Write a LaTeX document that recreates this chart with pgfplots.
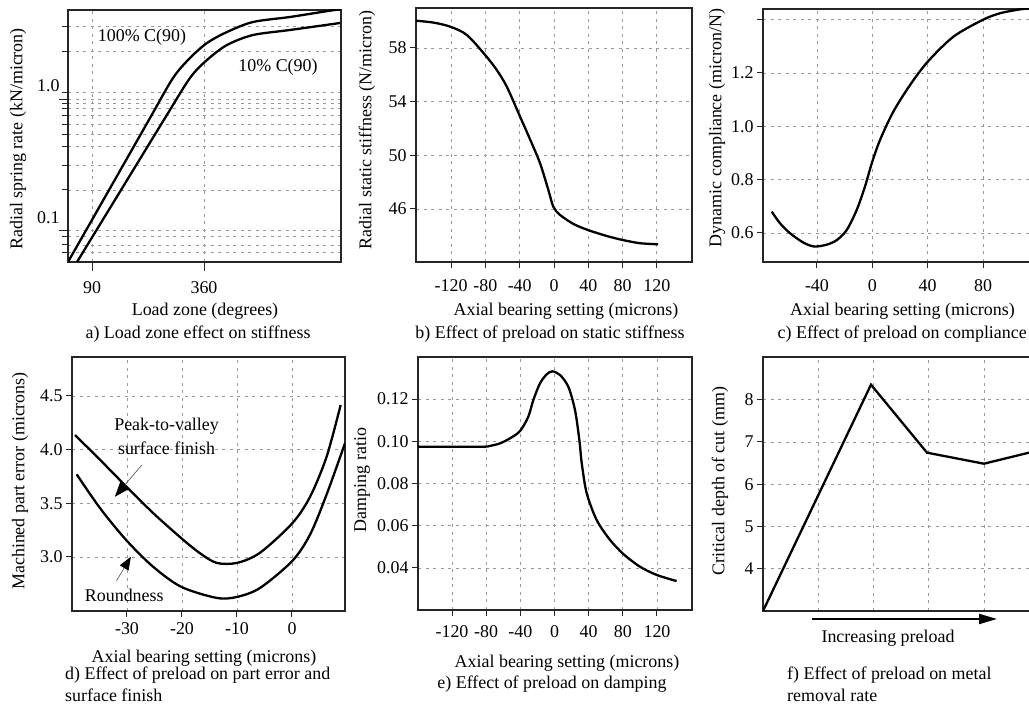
\documentclass[border=0pt]{standalone}
\usepackage{fontspec}
\setmainfont{Liberation Serif}
\usepackage{pgfplots}
\pgfplotsset{compat=1.18}
\usetikzlibrary{arrows.meta}

\newcommand{\fs}{\fontsize{18}{21}\selectfont}

\pgfplotsset{
  panel/.style={
    scale only axis,
    anchor=south west,
    axis line style={line width=1.5bp, black!85},
    grid=major,
    major grid style={gray!80, line width=0.8bp, dash pattern=on 3bp off 4.5bp},
    minor grid style={gray!80, line width=0.8bp, dash pattern=on 3bp off 4.5bp},
    tick align=outside,
    major tick length=6bp,
    minor tick length=6bp,
    tick style={line width=1bp, black!85},
    tick pos=left,
    tick label style={font=\fs},
    /pgf/number format/assume math mode=true,
  },
  curve/.style={black, line width=2.3bp, smooth, no markers},
}

\begin{document}
\begin{tikzpicture}[x=1bp,y=1bp]
\path[use as bounding box] (0,0) rectangle (1029,713);

% a) load zone
\begin{axis}[panel, at={(68bp,451bp)}, width=273bp, height=252bp,
  xmin=32.1, xmax=690.3, ymode=log, ymin=0.0579, ymax=4.74,
  xtick={90,360}, xticklabels={90,360},
  ytick={0.1,1}, yticklabels={0.1,1.0},
  minor ytick={0.068,0.078,0.09,0.204,0.315,0.434,0.542,0.646,0.756,0.85,0.927,1.116,2.29,3.54},
  grid=both, major tick length=9bp, minor tick length=6bp,
  yticklabel style={yshift=13bp, xshift=4bp},
  xticklabel style={yshift=-7bp}]
\addplot[curve] coordinates {(32.1,0.0579) (133.4,0.210) (229.8,0.717) (285.3,1.444)
  (326.2,2.048) (367.2,2.662) (415.4,3.226) (478.1,3.843) (567.3,4.194) (658.9,4.658) (700,4.85)};
\addplot[curve] coordinates {(53.8,0.0579) (157.5,0.198) (266,0.717) (326.2,1.444)
  (367.2,1.978) (415.4,2.57) (478.1,3.06) (567.3,3.342) (687.9,3.776)};
\node[font=\fs] at (axis cs:210.5,2.957) {100\% C(90)};
\node[font=\fs] at (axis cs:538.4,1.75) {10\% C(90)};
\end{axis}

% b) static stiffness
\begin{axis}[panel, at={(416bp,451bp)}, width=276bp, height=254bp,
  xmin=-161, xmax=161, ymin=42.05, ymax=60.98,
  xtick={-120,-80,-40,0,40,80,120}, ytick={46,50,54,58},
  xticklabel style={yshift=-8bp}]
\addplot[curve] coordinates {(-161,60.03) (-140.6,59.89) (-121.2,59.59) (-101.7,58.97)
  (-80.4,57.48) (-66.8,56.36) (-55.1,55.12) (-40.4,53.0) (-28,51.2) (-16.3,49.41)
  (-6.6,47.42) (-0.8,46.17) (7,45.56) (22.5,44.89) (39.3,44.44) (61.4,43.99)
  (80,43.69) (100.2,43.45) (121.5,43.37)};
\end{axis}

% c) compliance
\begin{axis}[panel, at={(763bp,451bp)}, width=272bp, height=253bp,
  xmin=-79, xmax=117.6, ymin=0.491, ymax=1.44,
  xtick={-40,0,40,80}, ytick={0.6,0.8,1.0,1.2,1.4},
  yticklabels={0.6,0.8,1.0,1.2,{}},
  xticklabel style={yshift=-8bp}]
\addplot[curve] coordinates {(-72.7,0.680) (-66.7,0.636) (-59.5,0.599) (-49.9,0.564)
  (-42,0.549) (-33,0.556) (-25.7,0.573) (-18.5,0.611) (-11.3,0.686) (-5.3,0.774)
  (-0.4,0.861) (5.6,0.949) (15.2,1.055) (27.3,1.155) (40,1.242) (58.6,1.336)
  (79.8,1.399) (92.3,1.424) (107.3,1.439) (117.6,1.445)};
\end{axis}

% d) part error
\begin{axis}[panel, at={(72bp,102bp)}, width=273bp, height=254bp,
  xmin=-40, xmax=9.64, ymin=2.497, ymax=4.863,
  xtick={-30,-20,-10,0}, ytick={3,3.5,4,4.5},
  yticklabels={3.0,3.5,4.0,4.5},
  xticklabel style={yshift=-2bp}]
\addplot[curve] coordinates {(-39.45,4.136) (-34.9,3.905) (-30.1,3.655) (-25.2,3.407)
  (-20.1,3.174) (-16.7,3.034) (-13.7,2.945) (-10,2.945) (-5.8,3.04) (0.05,3.314)
  (3.3,3.562) (6.3,3.935) (8.85,4.416)};
\addplot[curve] coordinates {(-39.15,3.770) (-34.9,3.455) (-30.1,3.155) (-25.2,2.907)
  (-20.1,2.721) (-13.7,2.619) (-10,2.628) (-5.8,2.712) (0.05,2.963) (3.3,3.21)
  (6.3,3.583) (9.64,4.06)};
\node[font=\fs] at (axis cs:-22.8,4.214) {Peak-to-valley};
\node[font=\fs] at (axis cs:-22.8,4.013) {surface finish};
\node[font=\fs] at (axis cs:-30.5,2.646) {Roundness};
\draw[gray!60!black, line width=0.6bp, -{Triangle[length=15bp,width=11bp,color=black]}]
  (axis cs:-27.3,3.857) -- (axis cs:-32.2,3.561);
\draw[gray!60!black, line width=0.6bp, -{Triangle[length=13bp,width=10bp,color=black]}]
  (axis cs:-31.9,2.779) -- (axis cs:-29.3,3.002);
\end{axis}

% e) damping
\begin{axis}[panel, at={(418bp,103bp)}, width=274bp, height=253bp,
  xmin=-159.8, xmax=161, ymin=0.0201, ymax=0.1399,
  xtick={-120,-80,-40,0,40,80,120}, ytick={0.04,0.06,0.08,0.10,0.12},
  yticklabels={0.04,0.06,0.08,0.10,0.12},
  xticklabel style={yshift=-6bp}]
\addplot[curve] coordinates {(-160,0.0974) (-87.2,0.0974) (-75.5,0.0978) (-63.8,0.0990)
  (-52.1,0.1014) (-40.4,0.1048) (-30.7,0.1116) (-24.8,0.1195) (-17,0.1274) (-9.1,0.1317)
  (-2.6,0.1331) (6.4,0.1314) (16.2,0.1258) (24,0.1148) (29.1,0.1006) (31.9,0.0896)
  (37.7,0.0754) (49.4,0.0627) (65,0.0533) (80.6,0.0466) (100.1,0.0406) (119.7,0.0367)
  (143,0.0338)};
\end{axis}

% f) depth of cut
\begin{axis}[panel, at={(763bp,102bp)}, width=272bp, height=254bp,
  xmin=0, xmax=4.92, ymin=3, ymax=9.01,
  xtick={1,2,3,4}, xticklabels={}, xtick style={draw=none},
  ytick={4,5,6,7,8}]
\addplot[black, line width=2.3bp, sharp plot, no markers] coordinates
  {(0,3) (1.953,8.355) (2.966,6.746) (3.996,6.485) (4.81,6.746) (4.92,6.781)};
\end{axis}

% axis labels
\node[font=\fs, rotate=90] at (18,574) {Radial spring rate (kN/micron)};
\node[font=\fs, rotate=90] at (367,583) {Radial static stiffness (N/micron)};
\node[font=\fs, rotate=90] at (717,585) {Dynamic compliance (micron/N)};
\node[font=\fs, rotate=90] at (20,232) {Machined part error (microns)};
\node[font=\fs, rotate=90] at (362,233) {Damping ratio};
\node[font=\fs, rotate=90] at (720,232) {Critical depth of cut (mm)};

\node[font=\fs, anchor=base] at (205,397) {Load zone (degrees)};
\node[font=\fs, anchor=base] at (566,397) {Axial bearing setting (microns)};
\node[font=\fs, anchor=base west, inner sep=0pt] at (790,397) {Axial bearing setting (microns)};
\node[font=\fs, anchor=base] at (204,50) {Axial bearing setting (microns)};
\node[font=\fs, anchor=base] at (567,45) {Axial bearing setting (microns)};
\node[font=\fs, anchor=base] at (888,70) {Increasing preload};
\draw[black, line width=2bp, -{Triangle[length=18bp,width=10bp]}] (812,94) -- (997,94);

% captions
\node[font=\fs, anchor=base] at (198,374) {a) Load zone effect on stiffness};
\node[font=\fs, anchor=base] at (550,374) {b) Effect of preload on static stiffness};
\node[font=\fs, anchor=base east, inner sep=0pt] at (1027,374) {c) Effect of preload on compliance};
\node[font=\fs, anchor=base west, inner sep=0pt] at (65,33) {d) Effect of preload on part error and};
\node[font=\fs, anchor=base west, inner sep=0pt] at (65,11) {surface finish};
\node[font=\fs, anchor=base] at (552,24) {e) Effect of preload on damping};
\node[font=\fs, anchor=base west, inner sep=0pt] at (787,33) {f) Effect of preload on metal};
\node[font=\fs, anchor=base west, inner sep=0pt] at (787,11) {removal rate};
\end{tikzpicture}
\end{document}
